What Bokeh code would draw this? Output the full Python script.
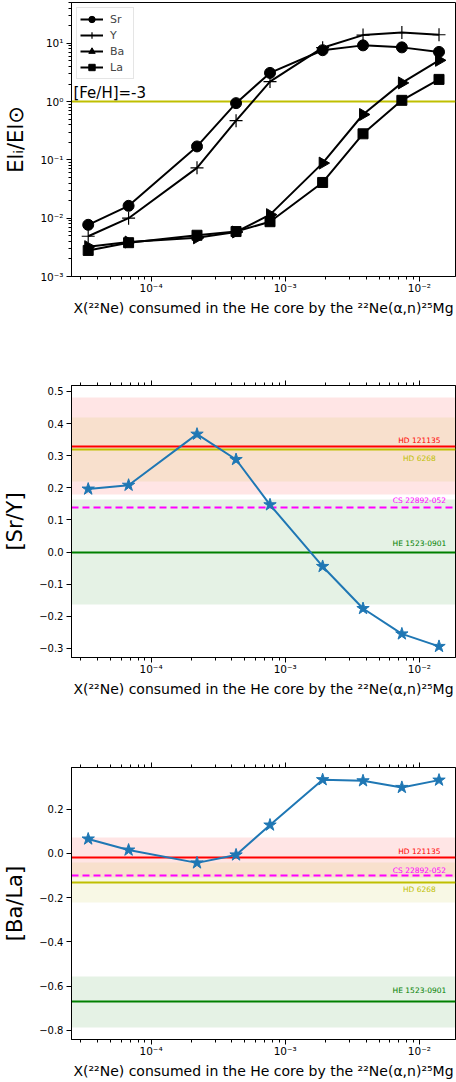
import math
from bokeh.plotting import figure
from bokeh.layouts import column
from bokeh.models import (LogAxis, FixedTicker, CustomJSTickFormatter, Legend,
                          LegendItem, Range1d)
from bokeh.core.properties import value
from bokeh.embed import file_html
from bokeh.resources import INLINE

# ---------------- data ----------------
X_NE22 = [3.4e-5, 6.8e-5, 2.2e-4, 4.3e-4, 7.7e-4, 1.9e-3, 3.8e-3, 7.4e-3, 1.4e-2]
SR = [7.7e-3, 1.63e-2, 0.17, 0.94, 3.1, 7.6, 9.2, 8.5, 7.1]
Y = [4.9e-3, 1.0e-2, 7.3e-2, 0.47, 2.2, 8.4, 13.8, 15.3, 14.0]
BA = [3.25e-3, 3.9e-3, 4.6e-3, 5.8e-3, 1.15e-2, 8.8e-2, 0.60, 2.09, 5.1]
LA = [2.8e-3, 3.8e-3, 5.1e-3, 5.9e-3, 8.7e-3, 4.1e-2, 0.28, 1.05, 2.4]

SR_Y = [0.196, 0.208, 0.367, 0.288, 0.147, -0.045, -0.176, -0.255, -0.294]
BA_LA = [0.065, 0.015, -0.043, -0.007, 0.128, 0.333, 0.328, 0.298, 0.331]

FEH_LEVEL = 1.0
FEH_LABEL = "[Fe/H]=-3"

STARS = ["HD 121135", "HD 6268", "CS 22892-052", "HE 1523-0901"]
STAR_COLORS = ["#ff0000", "#bfbf00", "#ff00ff", "#008000"]
STAR_DASH = ["solid", "solid", "7 4", "solid"]
SRY_OBS = [0.33, 0.32, 0.14, 0.00]
SRY_ERR = [0.15, 0.10, 0.0, 0.165]
BALA_OBS = [-0.02, -0.13, -0.10, -0.67]
BALA_ERR = [0.09, 0.09, 0.0, 0.115]

SRY_TICKS = [-0.3, -0.2, -0.1, 0.0, 0.1, 0.2, 0.3, 0.4, 0.5]
BALA_TICKS = [-0.8, -0.6, -0.4, -0.2, 0.0, 0.2]

XLABEL = "X(\u00b2\u00b2Ne) consumed in the He core by the \u00b2\u00b2Ne(\u03b1,n)\u00b2\u2075Mg"
FONT = "DejaVu Sans"

# ---------------- helpers ----------------
X_RANGE = (10 ** -4.593, 10 ** -1.731)

x_major = [1e-4, 1e-3, 1e-2]
x_minor = [k * 10.0 ** e for e in range(-5, -1) for k in range(2, 10)]

sup_js = """
const e = Math.round(Math.log10(tick));
const m = {"-":"\\u207b","0":"\\u2070","1":"\\u00b9","2":"\\u00b2","3":"\\u00b3",
           "4":"\\u2074","5":"\\u2075","6":"\\u2076","7":"\\u2077","8":"\\u2078","9":"\\u2079"};
return "10" + String(e).split("").map(c => m[c]).join("");
"""
lin_js = """
const s = Math.abs(tick).toFixed(1);
return (tick < -1e-9 ? "\\u2212" : "") + s;
"""


def style_axis(ax, label_size="10px"):
    ax.major_tick_out = 5
    ax.major_tick_in = 0
    ax.minor_tick_out = 3
    ax.minor_tick_in = 0
    ax.axis_line_color = "black"
    ax.major_tick_line_color = "black"
    ax.minor_tick_line_color = "black"
    ax.major_label_text_font = FONT
    ax.major_label_text_font_size = label_size
    ax.major_label_text_color = "black"
    ax.axis_label_text_font = FONT
    ax.axis_label_text_font_style = "normal"
    ax.axis_label_text_color = "black"


def base_fig(height, top, bottom, y_type, y_range):
    p = figure(width=456, height=height, x_axis_type="log", y_axis_type=y_type,
               x_range=Range1d(*X_RANGE), y_range=Range1d(*y_range),
               output_backend="svg", toolbar_location=None,
               min_border_left=69, min_border_right=1,
               min_border_top=top, min_border_bottom=bottom)
    p.grid.visible = False
    p.outline_line_color = "black"
    p.outline_line_width = 1
    p.background_fill_color = "white"
    xa = p.xaxis[0]
    xa.ticker = FixedTicker(ticks=x_major, minor_ticks=x_minor)
    xa.formatter = CustomJSTickFormatter(code=sup_js)
    style_axis(xa, label_size="10.5px")
    xa.major_label_standoff = 0
    xa.axis_label = XLABEL
    xa.axis_label_text_font_size = "14px"
    xa.axis_label_standoff = 3
    ya = p.yaxis[0]
    style_axis(ya)
    ya.major_label_standoff = 3
    ya.axis_label_text_font_size = "21px"
    ya.axis_label_standoff = 9
    return p


def add_top_axis(p):
    ax = LogAxis(ticker=FixedTicker(ticks=x_major, minor_ticks=x_minor),
                 formatter=CustomJSTickFormatter(code='return "";'))
    style_axis(ax, label_size="0px")
    ax.major_label_standoff = 0
    p.add_layout(ax, "above")


# ---------------- top panel ----------------
p1 = base_fig(340, 2, 64, "log", (1e-3, 50))
p1.yaxis[0].ticker = FixedTicker(
    ticks=[1e-3, 1e-2, 1e-1, 1e0, 1e1],
    minor_ticks=[k * 10.0 ** e for e in range(-3, 2) for k in range(2, 10)])
p1.yaxis[0].formatter = CustomJSTickFormatter(code=sup_js)
p1.yaxis[0].major_label_text_font_size = "10.5px"
p1.yaxis[0].axis_label = "El\u1d62/El\u2299"

p1.hspan(y=[FEH_LEVEL], line_color="#bfbf00", line_width=1.8)
p1.text(x=[2.64e-5], y=[FEH_LEVEL], text=[FEH_LABEL], text_font=value(FONT),
        text_font_size="15px", text_align="left", text_baseline="bottom",
        text_color="black", y_offset=0)

items = []
specs = [("Sr", SR, "circle", 11, 0.0), ("Y", Y, "cross", 13, 0.0),
         ("Ba", BA, "triangle", 12, -math.pi / 2), ("La", LA, "square", 10, 0.0)]
for name, vals, marker, size, ang in specs:
    lr = p1.line(X_NE22, vals, line_color="black", line_width=2)
    sr = p1.scatter(X_NE22, vals, marker=marker, size=size, angle=ang,
                    fill_color="black", line_color="black",
                    line_width=1.2 if marker == "cross" else 1)
    items.append(LegendItem(label=name, renderers=[lr, sr]))

leg = Legend(items=items, location="top_left", margin=5, padding=3, spacing=0,
             glyph_height=16, glyph_width=23, label_height=16, label_standoff=7,
             label_text_font=FONT, label_text_font_size="11px",
             border_line_color="#cccccc", background_fill_alpha=0.8)
p1.add_layout(leg)

# ---------------- middle panel ----------------
p2 = base_fig(400, 45, 83, "linear", (-0.3285, 0.5185))
add_top_axis(p2)
p2.yaxis[0].ticker = FixedTicker(ticks=SRY_TICKS)
p2.yaxis[0].formatter = CustomJSTickFormatter(code=lin_js)
p2.yaxis[0].axis_label = "[Sr/Y]"

# ---------------- bottom panel ----------------
p3 = base_fig(342, 27, 43, "linear", (-0.841, 0.388))
add_top_axis(p3)
p3.yaxis[0].ticker = FixedTicker(ticks=BALA_TICKS)
p3.yaxis[0].formatter = CustomJSTickFormatter(code=lin_js)
p3.yaxis[0].axis_label = "[Ba/La]"

LABEL_OFFS_2 = [-6, 9, -7, -9]
LABEL_OFFS_3 = [-6, 7, -5, -11]

for p, obs, err, offs, ratio in [(p2, SRY_OBS, SRY_ERR, LABEL_OFFS_2, SR_Y),
                                 (p3, BALA_OBS, BALA_ERR, LABEL_OFFS_3, BA_LA)]:
    for o, e, c in zip(obs, err, STAR_COLORS):
        if e > 0:
            p.hstrip(y0=[o - e], y1=[o + e], fill_color=c, fill_alpha=0.1,
                     line_color=None)
    for o, c, d in zip(obs, STAR_COLORS, STAR_DASH):
        p.hspan(y=[o], line_color=c, line_width=1.8, line_dash=d)
    for name, o, c, off in zip(STARS, obs, STAR_COLORS, offs):
        p.text(x=[1e-2], y=[o], text=[name], text_font=value(FONT),
               text_font_size="7.5px", text_color=c, text_align="center",
               text_baseline="middle", y_offset=off)
    p.line(X_NE22, ratio, line_color="#1f77b4", line_width=2)
    p.scatter(X_NE22, ratio, marker="star", size=13, fill_color="#1f77b4",
              line_color="#1f77b4")

layout = column(p1, p2, p3, spacing=0)
open("out.html", "w").write(file_html(layout, INLINE))
